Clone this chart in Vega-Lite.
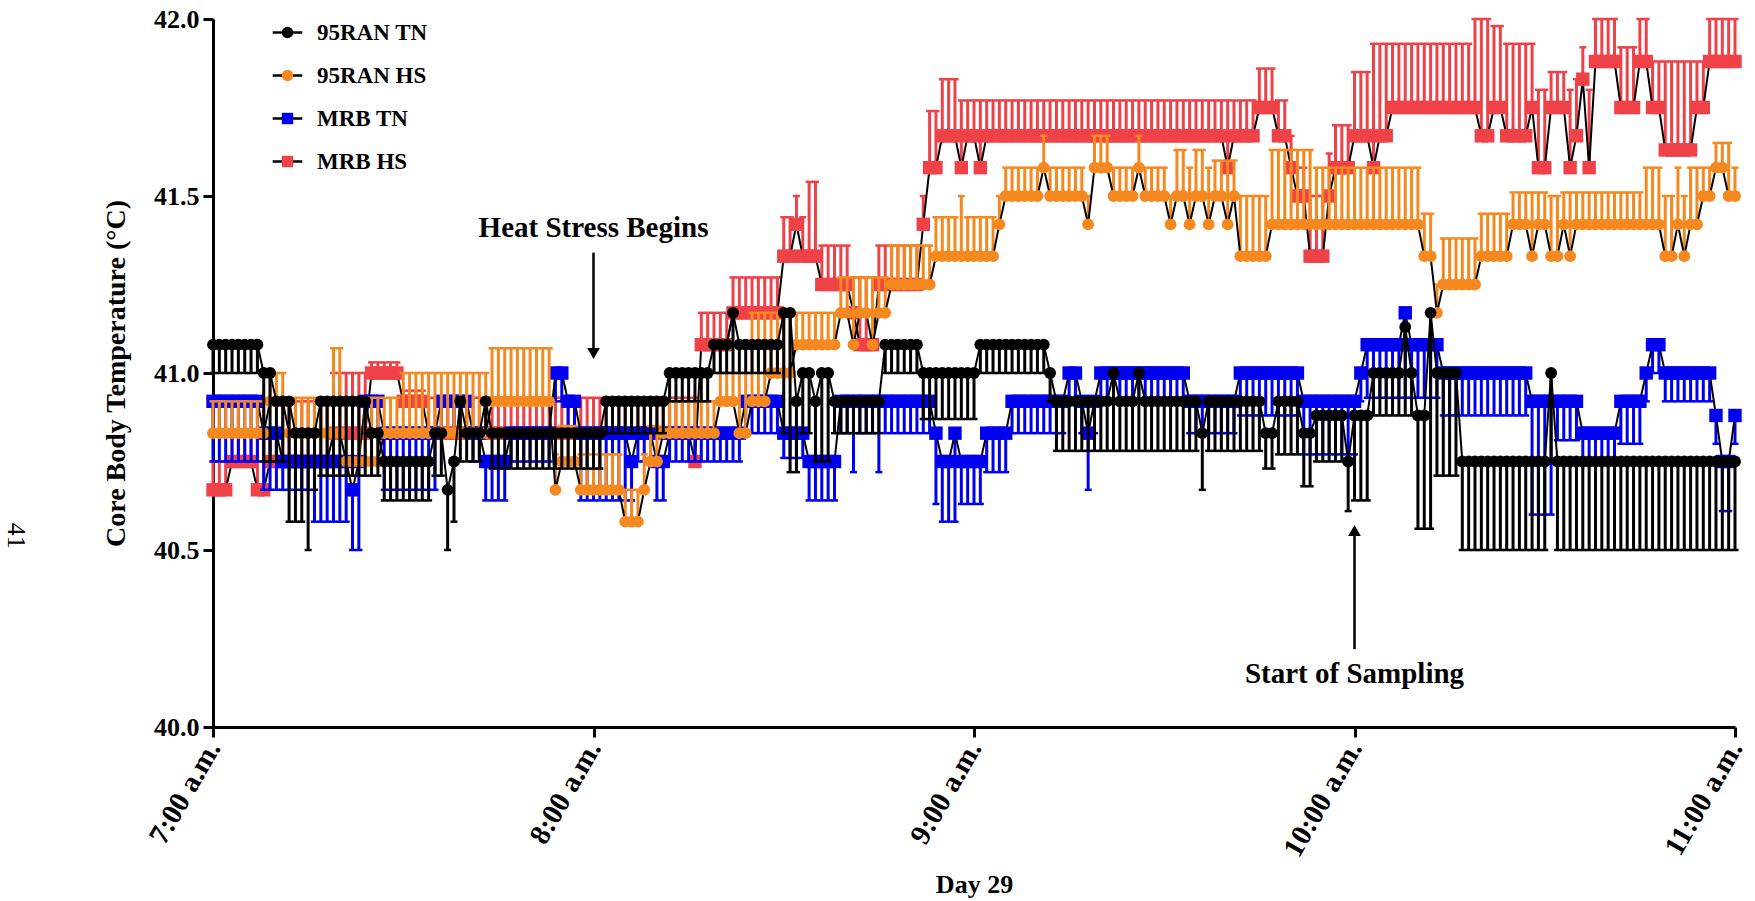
{
"$schema":"https://vega.github.io/schema/vega-lite/v6.json",
"width":1522,"height":708,
"autosize":{"type":"none"},
"padding":{"left":213,"top":19,"right":20,"bottom":174},
"background":"white",
"config":{"view":{"stroke":null}},
"data":{"values":[
{"t":0,"a":41.08,"a2":41,"b":40.83,"b2":40.92,"c":40.92,"c2":40.75,"d":40.67,"d2":40.75},
{"t":1,"a":41.08,"a2":41,"b":40.83,"b2":40.92,"c":40.92,"c2":40.75,"d":40.67,"d2":40.75},
{"t":2,"a":41.08,"a2":41,"b":40.83,"b2":40.92,"c":40.92,"c2":40.75,"d":40.67,"d2":40.75},
{"t":3,"a":41.08,"a2":41,"b":40.83,"b2":40.92,"c":40.92,"c2":40.75,"d":40.75,"d2":40.83},
{"t":4,"a":41.08,"a2":41,"b":40.83,"b2":40.92,"c":40.92,"c2":40.75,"d":40.75,"d2":40.83},
{"t":5,"a":41.08,"a2":41,"b":40.83,"b2":40.92,"c":40.92,"c2":40.75,"d":40.75,"d2":40.83},
{"t":6,"a":41.08,"a2":41,"b":40.83,"b2":40.92,"c":40.92,"c2":40.75,"d":40.75,"d2":40.83},
{"t":7,"a":41.08,"a2":41,"b":40.83,"b2":40.92,"c":40.92,"c2":40.75,"d":40.67,"d2":40.83},
{"t":8,"a":41,"a2":40.75,"b":40.83,"b2":40.92,"c":40.83,"c2":40.67,"d":40.67,"d2":40.83},
{"t":9,"a":41,"a2":40.75,"b":40.92,"b2":41,"c":40.83,"c2":40.67,"d":40.75,"d2":40.83},
{"t":10,"a":40.92,"a2":40.75,"b":40.92,"b2":41,"c":40.83,"c2":40.67,"d":40.75,"d2":40.83},
{"t":11,"a":40.92,"a2":40.75,"b":40.92,"b2":41,"c":40.75,"c2":40.67,"d":40.75,"d2":40.92},
{"t":12,"a":40.92,"a2":40.58,"b":40.83,"b2":40.93,"c":40.75,"c2":40.67,"d":40.75,"d2":40.92},
{"t":13,"a":40.83,"a2":40.58,"b":40.83,"b2":40.93,"c":40.75,"c2":40.67,"d":40.75,"d2":40.92},
{"t":14,"a":40.83,"a2":40.58,"b":40.83,"b2":40.93,"c":40.75,"c2":40.67,"d":40.75,"d2":40.92},
{"t":15,"a":40.83,"a2":40.5,"b":40.83,"b2":40.93,"c":40.75,"c2":40.67,"d":40.75,"d2":40.92},
{"t":16,"a":40.83,"a2":40.67,"b":40.83,"b2":40.93,"c":40.75,"c2":40.58,"d":40.75,"d2":40.92},
{"t":17,"a":40.92,"a2":40.71,"b":40.83,"b2":40.93,"c":40.75,"c2":40.58,"d":40.75,"d2":40.92},
{"t":18,"a":40.92,"a2":40.71,"b":40.83,"b2":40.93,"c":40.75,"c2":40.58,"d":40.75,"d2":40.92},
{"t":19,"a":40.92,"a2":40.71,"b":40.83,"b2":41.07,"c":40.75,"c2":40.58,"d":40.83,"d2":41},
{"t":20,"a":40.92,"a2":40.71,"b":40.83,"b2":41.07,"c":40.75,"c2":40.58,"d":40.83,"d2":41},
{"t":21,"a":40.92,"a2":40.71,"b":40.75,"b2":40.93,"c":40.75,"c2":40.58,"d":40.83,"d2":41},
{"t":22,"a":40.92,"a2":40.71,"b":40.75,"b2":40.93,"c":40.67,"c2":40.5,"d":40.83,"d2":41},
{"t":23,"a":40.92,"a2":40.71,"b":40.75,"b2":40.93,"c":40.75,"c2":40.5,"d":40.83,"d2":41},
{"t":24,"a":40.92,"a2":40.71,"b":40.75,"b2":40.93,"c":40.92,"c2":40.83,"d":40.83,"d2":41},
{"t":25,"a":40.83,"a2":40.71,"b":40.75,"b2":40.93,"c":40.92,"c2":40.83,"d":41,"d2":41.03},
{"t":26,"a":40.83,"a2":40.71,"b":40.75,"b2":40.93,"c":40.92,"c2":40.83,"d":41,"d2":41.03},
{"t":27,"a":40.75,"a2":40.64,"b":40.83,"b2":40.93,"c":40.83,"c2":40.67,"d":41,"d2":41.03},
{"t":28,"a":40.75,"a2":40.64,"b":40.83,"b2":40.93,"c":40.83,"c2":40.67,"d":41,"d2":41.03},
{"t":29,"a":40.75,"a2":40.64,"b":40.83,"b2":40.93,"c":40.83,"c2":40.67,"d":41,"d2":41.03},
{"t":30,"a":40.75,"a2":40.64,"b":40.83,"b2":41,"c":40.83,"c2":40.67,"d":40.92,"d2":40.95},
{"t":31,"a":40.75,"a2":40.64,"b":40.83,"b2":41,"c":40.83,"c2":40.67,"d":40.92,"d2":40.95},
{"t":32,"a":40.75,"a2":40.64,"b":40.83,"b2":41,"c":40.83,"c2":40.67,"d":40.92,"d2":40.95},
{"t":33,"a":40.75,"a2":40.64,"b":40.83,"b2":41,"c":40.83,"c2":40.67,"d":40.92,"d2":40.95},
{"t":34,"a":40.75,"a2":40.64,"b":40.83,"b2":41,"c":40.83,"c2":40.67,"d":40.83,"d2":40.93},
{"t":35,"a":40.83,"a2":40.71,"b":40.83,"b2":41,"c":40.83,"c2":40.67,"d":40.83,"d2":40.93},
{"t":36,"a":40.83,"a2":40.71,"b":40.83,"b2":41,"c":40.92,"c2":40.83,"d":40.83,"d2":40.93},
{"t":37,"a":40.67,"a2":40.5,"b":40.83,"b2":41,"c":40.92,"c2":40.83,"d":40.83,"d2":40.93},
{"t":38,"a":40.75,"a2":40.58,"b":40.83,"b2":41,"c":40.92,"c2":40.83,"d":40.83,"d2":40.93},
{"t":39,"a":40.92,"a2":40.75,"b":40.83,"b2":41,"c":40.92,"c2":40.83,"d":40.83,"d2":40.93},
{"t":40,"a":40.83,"a2":40.75,"b":40.83,"b2":41,"c":40.92,"c2":40.83,"d":40.83,"d2":40.93},
{"t":41,"a":40.83,"a2":40.75,"b":40.83,"b2":41,"c":40.83,"c2":40.75,"d":40.83,"d2":40.93},
{"t":42,"a":40.83,"a2":40.75,"b":40.83,"b2":41,"c":40.83,"c2":40.75,"d":40.83,"d2":40.93},
{"t":43,"a":40.92,"a2":40.83,"b":40.83,"b2":41,"c":40.75,"c2":40.64,"d":40.83,"d2":40.93},
{"t":44,"a":40.83,"a2":40.73,"b":40.92,"b2":41.07,"c":40.75,"c2":40.64,"d":40.83,"d2":40.93},
{"t":45,"a":40.83,"a2":40.73,"b":40.92,"b2":41.07,"c":40.75,"c2":40.64,"d":40.83,"d2":40.93},
{"t":46,"a":40.83,"a2":40.73,"b":40.92,"b2":41.07,"c":40.75,"c2":40.64,"d":40.83,"d2":40.93},
{"t":47,"a":40.83,"a2":40.73,"b":40.92,"b2":41.07,"c":40.83,"c2":40.75,"d":40.83,"d2":40.93},
{"t":48,"a":40.83,"a2":40.73,"b":40.92,"b2":41.07,"c":40.83,"c2":40.75,"d":40.83,"d2":40.93},
{"t":49,"a":40.83,"a2":40.73,"b":40.92,"b2":41.07,"c":40.83,"c2":40.75,"d":40.83,"d2":40.93},
{"t":50,"a":40.83,"a2":40.73,"b":40.92,"b2":41.07,"c":40.83,"c2":40.75,"d":40.83,"d2":40.93},
{"t":51,"a":40.83,"a2":40.73,"b":40.92,"b2":41.07,"c":40.83,"c2":40.75,"d":40.83,"d2":40.93},
{"t":52,"a":40.83,"a2":40.73,"b":40.92,"b2":41.07,"c":40.83,"c2":40.75,"d":40.83,"d2":40.93},
{"t":53,"a":40.83,"a2":40.73,"b":40.92,"b2":41.07,"c":40.83,"c2":40.75,"d":40.83,"d2":40.93},
{"t":54,"a":40.83,"a2":40.73,"b":40.67,"b2":40.77,"c":41,"c2":40.92,"d":40.83,"d2":40.93},
{"t":55,"a":40.83,"a2":40.73,"b":40.75,"b2":40.85,"c":41,"c2":40.92,"d":40.83,"d2":40.93},
{"t":56,"a":40.83,"a2":40.73,"b":40.75,"b2":40.85,"c":40.92,"c2":40.83,"d":40.83,"d2":40.93},
{"t":57,"a":40.83,"a2":40.73,"b":40.75,"b2":40.85,"c":40.92,"c2":40.83,"d":40.83,"d2":40.93},
{"t":58,"a":40.83,"a2":40.73,"b":40.67,"b2":40.77,"c":40.83,"c2":40.64,"d":40.83,"d2":40.93},
{"t":59,"a":40.83,"a2":40.73,"b":40.67,"b2":40.77,"c":40.83,"c2":40.64,"d":40.83,"d2":40.93},
{"t":60,"a":40.83,"a2":40.73,"b":40.67,"b2":40.77,"c":40.83,"c2":40.64,"d":40.83,"d2":40.93},
{"t":61,"a":40.83,"a2":40.73,"b":40.67,"b2":40.77,"c":40.83,"c2":40.64,"d":40.83,"d2":40.93},
{"t":62,"a":40.92,"a2":40.83,"b":40.67,"b2":40.77,"c":40.83,"c2":40.64,"d":40.83,"d2":40.93},
{"t":63,"a":40.92,"a2":40.83,"b":40.67,"b2":40.77,"c":40.83,"c2":40.64,"d":40.83,"d2":40.93},
{"t":64,"a":40.92,"a2":40.83,"b":40.67,"b2":40.77,"c":40.83,"c2":40.64,"d":40.83,"d2":40.93},
{"t":65,"a":40.92,"a2":40.83,"b":40.58,"b2":40.67,"c":40.83,"c2":40.64,"d":40.83,"d2":40.93},
{"t":66,"a":40.92,"a2":40.83,"b":40.58,"b2":40.67,"c":40.75,"c2":40.64,"d":40.83,"d2":40.93},
{"t":67,"a":40.92,"a2":40.83,"b":40.58,"b2":40.67,"c":40.83,"c2":40.75,"d":40.83,"d2":40.93},
{"t":68,"a":40.92,"a2":40.83,"b":40.67,"b2":40.77,"c":40.83,"c2":40.75,"d":40.83,"d2":40.93},
{"t":69,"a":40.92,"a2":40.83,"b":40.75,"b2":40.85,"c":40.83,"c2":40.75,"d":40.83,"d2":40.93},
{"t":70,"a":40.92,"a2":40.83,"b":40.75,"b2":40.85,"c":40.75,"c2":40.64,"d":40.83,"d2":40.93},
{"t":71,"a":40.92,"a2":40.83,"b":40.83,"b2":40.92,"c":40.75,"c2":40.64,"d":40.83,"d2":40.93},
{"t":72,"a":41,"a2":40.92,"b":40.83,"b2":40.92,"c":40.83,"c2":40.75,"d":40.83,"d2":40.93},
{"t":73,"a":41,"a2":40.92,"b":40.83,"b2":40.92,"c":40.83,"c2":40.75,"d":40.83,"d2":40.93},
{"t":74,"a":41,"a2":40.92,"b":40.83,"b2":40.92,"c":40.83,"c2":40.75,"d":40.83,"d2":40.93},
{"t":75,"a":41,"a2":40.92,"b":40.83,"b2":40.92,"c":40.83,"c2":40.75,"d":40.83,"d2":40.93},
{"t":76,"a":41,"a2":40.92,"b":40.83,"b2":40.92,"c":40.83,"c2":40.75,"d":40.75,"d2":40.93},
{"t":77,"a":41,"a2":40.92,"b":40.83,"b2":40.92,"c":40.83,"c2":40.75,"d":41.08,"d2":41.17},
{"t":78,"a":41,"a2":40.92,"b":40.83,"b2":40.92,"c":40.83,"c2":40.75,"d":41.08,"d2":41.17},
{"t":79,"a":41.08,"a2":41,"b":40.83,"b2":40.92,"c":40.83,"c2":40.75,"d":41.08,"d2":41.17},
{"t":80,"a":41.08,"a2":41,"b":40.92,"b2":41,"c":40.83,"c2":40.75,"d":41.08,"d2":41.17},
{"t":81,"a":41.08,"a2":41,"b":40.92,"b2":41,"c":40.83,"c2":40.75,"d":41.08,"d2":41.17},
{"t":82,"a":41.17,"a2":41,"b":40.92,"b2":41,"c":40.83,"c2":40.75,"d":41.17,"d2":41.27},
{"t":83,"a":41.08,"a2":41,"b":40.83,"b2":41,"c":40.83,"c2":40.75,"d":41.17,"d2":41.27},
{"t":84,"a":41.08,"a2":41,"b":40.83,"b2":41,"c":40.92,"c2":40.83,"d":41.17,"d2":41.27},
{"t":85,"a":41.08,"a2":41,"b":40.92,"b2":41.17,"c":40.92,"c2":40.83,"d":41.17,"d2":41.27},
{"t":86,"a":41.08,"a2":41,"b":40.92,"b2":41.17,"c":40.92,"c2":40.83,"d":41.17,"d2":41.27},
{"t":87,"a":41.08,"a2":41,"b":40.92,"b2":41.17,"c":40.92,"c2":40.83,"d":41.17,"d2":41.27},
{"t":88,"a":41.08,"a2":41,"b":41,"b2":41.17,"c":40.92,"c2":40.83,"d":41.17,"d2":41.27},
{"t":89,"a":41.08,"a2":41,"b":41,"b2":41.17,"c":40.92,"c2":40.83,"d":41.17,"d2":41.27},
{"t":90,"a":41.17,"a2":40.83,"b":41,"b2":41.17,"c":40.83,"c2":40.76,"d":41.33,"d2":41.44},
{"t":91,"a":41.17,"a2":40.72,"b":41,"b2":41.17,"c":40.83,"c2":40.76,"d":41.33,"d2":41.44},
{"t":92,"a":40.92,"a2":40.72,"b":41.08,"b2":41.17,"c":40.83,"c2":40.76,"d":41.42,"d2":41.5},
{"t":93,"a":41,"a2":40.83,"b":41.08,"b2":41.17,"c":40.83,"c2":40.76,"d":41.33,"d2":41.44},
{"t":94,"a":41,"a2":40.83,"b":41.08,"b2":41.17,"c":40.75,"c2":40.64,"d":41.33,"d2":41.54},
{"t":95,"a":40.92,"a2":40.75,"b":41.08,"b2":41.17,"c":40.75,"c2":40.64,"d":41.33,"d2":41.54},
{"t":96,"a":41,"a2":40.75,"b":41.08,"b2":41.17,"c":40.75,"c2":40.64,"d":41.25,"d2":41.36},
{"t":97,"a":41,"a2":40.75,"b":41.08,"b2":41.17,"c":40.75,"c2":40.64,"d":41.25,"d2":41.36},
{"t":98,"a":40.92,"a2":40.83,"b":41.08,"b2":41.17,"c":40.75,"c2":40.64,"d":41.25,"d2":41.36},
{"t":99,"a":40.92,"a2":40.83,"b":41.17,"b2":41.27,"c":40.92,"c2":40.83,"d":41.25,"d2":41.36},
{"t":100,"a":40.92,"a2":40.83,"b":41.17,"b2":41.27,"c":40.92,"c2":40.83,"d":41.25,"d2":41.36},
{"t":101,"a":40.92,"a2":40.83,"b":41.08,"b2":41.27,"c":40.92,"c2":40.72,"d":41.17,"d2":41.27},
{"t":102,"a":40.92,"a2":40.83,"b":41.17,"b2":41.27,"c":40.92,"c2":40.83,"d":41.08,"d2":41.27},
{"t":103,"a":40.92,"a2":40.83,"b":41.17,"b2":41.27,"c":40.92,"c2":40.83,"d":41.08,"d2":41.27},
{"t":104,"a":40.92,"a2":40.83,"b":41.08,"b2":41.27,"c":40.92,"c2":40.83,"d":41.08,"d2":41.27},
{"t":105,"a":40.92,"a2":40.83,"b":41.17,"b2":41.27,"c":40.92,"c2":40.72,"d":41.25,"d2":41.36},
{"t":106,"a":41.08,"a2":41,"b":41.17,"b2":41.27,"c":40.92,"c2":40.83,"d":41.25,"d2":41.36},
{"t":107,"a":41.08,"a2":41,"b":41.25,"b2":41.36,"c":40.92,"c2":40.83,"d":41.25,"d2":41.36},
{"t":108,"a":41.08,"a2":41,"b":41.25,"b2":41.36,"c":40.92,"c2":40.83,"d":41.25,"d2":41.36},
{"t":109,"a":41.08,"a2":41,"b":41.25,"b2":41.36,"c":40.92,"c2":40.83,"d":41.25,"d2":41.36},
{"t":110,"a":41.08,"a2":41,"b":41.25,"b2":41.36,"c":40.92,"c2":40.83,"d":41.25,"d2":41.36},
{"t":111,"a":41.08,"a2":41,"b":41.25,"b2":41.36,"c":40.92,"c2":40.83,"d":41.25,"d2":41.36},
{"t":112,"a":41,"a2":40.87,"b":41.25,"b2":41.36,"c":40.92,"c2":40.83,"d":41.42,"d2":41.5},
{"t":113,"a":41,"a2":40.87,"b":41.25,"b2":41.36,"c":40.92,"c2":40.83,"d":41.58,"d2":41.74},
{"t":114,"a":41,"a2":40.87,"b":41.33,"b2":41.44,"c":40.83,"c2":40.63,"d":41.58,"d2":41.74},
{"t":115,"a":41,"a2":40.87,"b":41.33,"b2":41.44,"c":40.75,"c2":40.58,"d":41.67,"d2":41.83},
{"t":116,"a":41,"a2":40.87,"b":41.33,"b2":41.44,"c":40.75,"c2":40.58,"d":41.67,"d2":41.83},
{"t":117,"a":41,"a2":40.87,"b":41.33,"b2":41.44,"c":40.83,"c2":40.58,"d":41.67,"d2":41.83},
{"t":118,"a":41,"a2":40.87,"b":41.33,"b2":41.5,"c":40.75,"c2":40.63,"d":41.58,"d2":41.77},
{"t":119,"a":41,"a2":40.87,"b":41.33,"b2":41.44,"c":40.75,"c2":40.63,"d":41.67,"d2":41.77},
{"t":120,"a":41,"a2":40.87,"b":41.33,"b2":41.44,"c":40.75,"c2":40.63,"d":41.67,"d2":41.77},
{"t":121,"a":41.08,"a2":41,"b":41.33,"b2":41.44,"c":40.75,"c2":40.63,"d":41.58,"d2":41.77},
{"t":122,"a":41.08,"a2":41,"b":41.33,"b2":41.44,"c":40.83,"c2":40.72,"d":41.67,"d2":41.77},
{"t":123,"a":41.08,"a2":41,"b":41.33,"b2":41.44,"c":40.83,"c2":40.72,"d":41.67,"d2":41.77},
{"t":124,"a":41.08,"a2":41,"b":41.42,"b2":41.5,"c":40.83,"c2":40.72,"d":41.67,"d2":41.77},
{"t":125,"a":41.08,"a2":41,"b":41.5,"b2":41.58,"c":40.83,"c2":40.72,"d":41.67,"d2":41.77},
{"t":126,"a":41.08,"a2":41,"b":41.5,"b2":41.58,"c":40.92,"c2":40.83,"d":41.67,"d2":41.77},
{"t":127,"a":41.08,"a2":41,"b":41.5,"b2":41.58,"c":40.92,"c2":40.83,"d":41.67,"d2":41.77},
{"t":128,"a":41.08,"a2":41,"b":41.5,"b2":41.58,"c":40.92,"c2":40.83,"d":41.67,"d2":41.77},
{"t":129,"a":41.08,"a2":41,"b":41.5,"b2":41.58,"c":40.92,"c2":40.83,"d":41.67,"d2":41.77},
{"t":130,"a":41.08,"a2":41,"b":41.5,"b2":41.58,"c":40.92,"c2":40.83,"d":41.67,"d2":41.77},
{"t":131,"a":41.08,"a2":41,"b":41.58,"b2":41.67,"c":40.92,"c2":40.83,"d":41.67,"d2":41.77},
{"t":132,"a":41,"a2":40.92,"b":41.5,"b2":41.58,"c":40.92,"c2":40.83,"d":41.67,"d2":41.77},
{"t":133,"a":40.92,"a2":40.78,"b":41.5,"b2":41.58,"c":40.92,"c2":40.83,"d":41.67,"d2":41.77},
{"t":134,"a":40.92,"a2":40.78,"b":41.5,"b2":41.58,"c":40.92,"c2":40.83,"d":41.67,"d2":41.77},
{"t":135,"a":40.92,"a2":40.78,"b":41.5,"b2":41.58,"c":41,"c2":40.92,"d":41.67,"d2":41.77},
{"t":136,"a":40.92,"a2":40.78,"b":41.5,"b2":41.58,"c":41,"c2":40.92,"d":41.67,"d2":41.77},
{"t":137,"a":40.92,"a2":40.78,"b":41.5,"b2":41.58,"c":40.92,"c2":40.83,"d":41.67,"d2":41.77},
{"t":138,"a":40.92,"a2":40.78,"b":41.42,"b2":41.5,"c":40.83,"c2":40.67,"d":41.67,"d2":41.77},
{"t":139,"a":40.92,"a2":40.78,"b":41.58,"b2":41.67,"c":40.92,"c2":40.83,"d":41.67,"d2":41.77},
{"t":140,"a":40.92,"a2":40.78,"b":41.58,"b2":41.67,"c":41,"c2":40.92,"d":41.67,"d2":41.77},
{"t":141,"a":40.92,"a2":40.78,"b":41.58,"b2":41.67,"c":41,"c2":40.92,"d":41.67,"d2":41.77},
{"t":142,"a":41,"a2":40.78,"b":41.5,"b2":41.58,"c":41,"c2":40.92,"d":41.67,"d2":41.77},
{"t":143,"a":40.92,"a2":40.78,"b":41.5,"b2":41.58,"c":41,"c2":40.92,"d":41.67,"d2":41.77},
{"t":144,"a":40.92,"a2":40.78,"b":41.5,"b2":41.58,"c":41,"c2":40.92,"d":41.67,"d2":41.77},
{"t":145,"a":40.92,"a2":40.78,"b":41.5,"b2":41.58,"c":41,"c2":40.92,"d":41.67,"d2":41.77},
{"t":146,"a":41,"a2":40.78,"b":41.58,"b2":41.67,"c":41,"c2":40.92,"d":41.67,"d2":41.77},
{"t":147,"a":40.92,"a2":40.78,"b":41.5,"b2":41.58,"c":41,"c2":40.92,"d":41.67,"d2":41.77},
{"t":148,"a":40.92,"a2":40.78,"b":41.5,"b2":41.58,"c":41,"c2":40.92,"d":41.67,"d2":41.77},
{"t":149,"a":40.92,"a2":40.78,"b":41.5,"b2":41.58,"c":41,"c2":40.92,"d":41.67,"d2":41.77},
{"t":150,"a":40.92,"a2":40.78,"b":41.5,"b2":41.58,"c":41,"c2":40.92,"d":41.67,"d2":41.77},
{"t":151,"a":40.92,"a2":40.78,"b":41.42,"b2":41.5,"c":41,"c2":40.92,"d":41.67,"d2":41.77},
{"t":152,"a":40.92,"a2":40.78,"b":41.5,"b2":41.63,"c":41,"c2":40.92,"d":41.67,"d2":41.77},
{"t":153,"a":40.92,"a2":40.78,"b":41.5,"b2":41.63,"c":41,"c2":40.92,"d":41.67,"d2":41.77},
{"t":154,"a":40.92,"a2":40.78,"b":41.42,"b2":41.58,"c":40.92,"c2":40.83,"d":41.67,"d2":41.77},
{"t":155,"a":40.92,"a2":40.78,"b":41.5,"b2":41.63,"c":40.92,"c2":40.83,"d":41.67,"d2":41.77},
{"t":156,"a":40.83,"a2":40.67,"b":41.5,"b2":41.63,"c":40.92,"c2":40.83,"d":41.67,"d2":41.77},
{"t":157,"a":40.92,"a2":40.78,"b":41.42,"b2":41.58,"c":40.92,"c2":40.83,"d":41.67,"d2":41.77},
{"t":158,"a":40.92,"a2":40.78,"b":41.5,"b2":41.6,"c":40.92,"c2":40.83,"d":41.67,"d2":41.77},
{"t":159,"a":40.92,"a2":40.78,"b":41.5,"b2":41.6,"c":40.92,"c2":40.83,"d":41.67,"d2":41.77},
{"t":160,"a":40.92,"a2":40.78,"b":41.42,"b2":41.6,"c":40.92,"c2":40.83,"d":41.58,"d2":41.77},
{"t":161,"a":40.92,"a2":40.78,"b":41.5,"b2":41.6,"c":40.92,"c2":40.83,"d":41.67,"d2":41.77},
{"t":162,"a":40.92,"a2":40.78,"b":41.33,"b2":41.5,"c":41,"c2":40.88,"d":41.67,"d2":41.77},
{"t":163,"a":40.92,"a2":40.78,"b":41.33,"b2":41.5,"c":41,"c2":40.88,"d":41.67,"d2":41.77},
{"t":164,"a":40.92,"a2":40.78,"b":41.33,"b2":41.5,"c":41,"c2":40.88,"d":41.67,"d2":41.77},
{"t":165,"a":40.92,"a2":40.78,"b":41.33,"b2":41.5,"c":41,"c2":40.88,"d":41.75,"d2":41.86},
{"t":166,"a":40.83,"a2":40.73,"b":41.33,"b2":41.5,"c":41,"c2":40.88,"d":41.75,"d2":41.86},
{"t":167,"a":40.83,"a2":40.73,"b":41.42,"b2":41.63,"c":41,"c2":40.88,"d":41.75,"d2":41.86},
{"t":168,"a":40.92,"a2":40.77,"b":41.42,"b2":41.63,"c":41,"c2":40.88,"d":41.67,"d2":41.77},
{"t":169,"a":40.92,"a2":40.77,"b":41.42,"b2":41.63,"c":41,"c2":40.88,"d":41.67,"d2":41.77},
{"t":170,"a":40.92,"a2":40.77,"b":41.42,"b2":41.63,"c":41,"c2":40.88,"d":41.58,"d2":41.67},
{"t":171,"a":40.92,"a2":40.77,"b":41.42,"b2":41.63,"c":41,"c2":40.88,"d":41.5,"d2":41.58},
{"t":172,"a":40.83,"a2":40.68,"b":41.42,"b2":41.63,"c":40.92,"c2":40.77,"d":41.5,"d2":41.58},
{"t":173,"a":40.83,"a2":40.68,"b":41.42,"b2":41.63,"c":40.92,"c2":40.77,"d":41.33,"d2":41.5},
{"t":174,"a":40.88,"a2":40.75,"b":41.42,"b2":41.58,"c":40.92,"c2":40.77,"d":41.33,"d2":41.5},
{"t":175,"a":40.88,"a2":40.75,"b":41.42,"b2":41.58,"c":40.92,"c2":40.77,"d":41.33,"d2":41.5},
{"t":176,"a":40.88,"a2":40.75,"b":41.42,"b2":41.58,"c":40.92,"c2":40.77,"d":41.5,"d2":41.62},
{"t":177,"a":40.88,"a2":40.75,"b":41.42,"b2":41.58,"c":40.92,"c2":40.77,"d":41.58,"d2":41.7},
{"t":178,"a":40.88,"a2":40.75,"b":41.42,"b2":41.58,"c":40.92,"c2":40.77,"d":41.58,"d2":41.7},
{"t":179,"a":40.75,"a2":40.61,"b":41.42,"b2":41.58,"c":40.92,"c2":40.77,"d":41.58,"d2":41.7},
{"t":180,"a":40.88,"a2":40.64,"b":41.42,"b2":41.58,"c":40.92,"c2":40.77,"d":41.67,"d2":41.85},
{"t":181,"a":40.88,"a2":40.64,"b":41.42,"b2":41.58,"c":41,"c2":40.92,"d":41.67,"d2":41.85},
{"t":182,"a":40.88,"a2":40.64,"b":41.42,"b2":41.58,"c":41.08,"c2":40.93,"d":41.67,"d2":41.85},
{"t":183,"a":41,"a2":40.88,"b":41.42,"b2":41.58,"c":41.08,"c2":40.93,"d":41.58,"d2":41.93},
{"t":184,"a":41,"a2":40.88,"b":41.42,"b2":41.58,"c":41.08,"c2":40.93,"d":41.67,"d2":41.93},
{"t":185,"a":41,"a2":40.88,"b":41.42,"b2":41.58,"c":41.08,"c2":40.93,"d":41.67,"d2":41.93},
{"t":186,"a":41,"a2":40.88,"b":41.42,"b2":41.58,"c":41.08,"c2":40.93,"d":41.75,"d2":41.93},
{"t":187,"a":41,"a2":40.88,"b":41.42,"b2":41.58,"c":41.08,"c2":40.93,"d":41.75,"d2":41.93},
{"t":188,"a":41.13,"a2":40.88,"b":41.42,"b2":41.58,"c":41.17,"c2":40.93,"d":41.75,"d2":41.93},
{"t":189,"a":41,"a2":40.88,"b":41.42,"b2":41.58,"c":41.08,"c2":40.93,"d":41.75,"d2":41.93},
{"t":190,"a":40.88,"a2":40.56,"b":41.42,"b2":41.58,"c":41.08,"c2":40.93,"d":41.75,"d2":41.93},
{"t":191,"a":40.88,"a2":40.56,"b":41.33,"b2":41.45,"c":41.08,"c2":40.93,"d":41.75,"d2":41.93},
{"t":192,"a":41.17,"a2":40.56,"b":41.33,"b2":41.45,"c":41.08,"c2":40.93,"d":41.75,"d2":41.93},
{"t":193,"a":41,"a2":40.71,"b":41.17,"b2":41.25,"c":41.08,"c2":40.93,"d":41.75,"d2":41.93},
{"t":194,"a":41,"a2":40.71,"b":41.25,"b2":41.38,"c":41,"c2":40.88,"d":41.75,"d2":41.93},
{"t":195,"a":41,"a2":40.71,"b":41.25,"b2":41.38,"c":41,"c2":40.88,"d":41.75,"d2":41.93},
{"t":196,"a":41,"a2":40.71,"b":41.25,"b2":41.38,"c":41,"c2":40.88,"d":41.75,"d2":41.93},
{"t":197,"a":40.75,"a2":40.5,"b":41.25,"b2":41.38,"c":41,"c2":40.88,"d":41.75,"d2":41.93},
{"t":198,"a":40.75,"a2":40.5,"b":41.25,"b2":41.38,"c":41,"c2":40.88,"d":41.75,"d2":41.93},
{"t":199,"a":40.75,"a2":40.5,"b":41.25,"b2":41.38,"c":41,"c2":40.88,"d":41.75,"d2":42},
{"t":200,"a":40.75,"a2":40.5,"b":41.33,"b2":41.45,"c":41,"c2":40.88,"d":41.67,"d2":42},
{"t":201,"a":40.75,"a2":40.5,"b":41.33,"b2":41.45,"c":41,"c2":40.88,"d":41.67,"d2":42},
{"t":202,"a":40.75,"a2":40.5,"b":41.33,"b2":41.45,"c":41,"c2":40.88,"d":41.75,"d2":41.98},
{"t":203,"a":40.75,"a2":40.5,"b":41.33,"b2":41.45,"c":41,"c2":40.88,"d":41.75,"d2":41.98},
{"t":204,"a":40.75,"a2":40.5,"b":41.33,"b2":41.45,"c":41,"c2":40.88,"d":41.67,"d2":41.93},
{"t":205,"a":40.75,"a2":40.5,"b":41.42,"b2":41.51,"c":41,"c2":40.88,"d":41.67,"d2":41.93},
{"t":206,"a":40.75,"a2":40.5,"b":41.42,"b2":41.51,"c":41,"c2":40.88,"d":41.67,"d2":41.93},
{"t":207,"a":40.75,"a2":40.5,"b":41.42,"b2":41.51,"c":41,"c2":40.88,"d":41.67,"d2":41.93},
{"t":208,"a":40.75,"a2":40.5,"b":41.33,"b2":41.51,"c":40.92,"c2":40.6,"d":41.75,"d2":41.93},
{"t":209,"a":40.75,"a2":40.5,"b":41.42,"b2":41.51,"c":40.92,"c2":40.6,"d":41.58,"d2":41.8},
{"t":210,"a":40.75,"a2":40.5,"b":41.42,"b2":41.51,"c":40.92,"c2":40.6,"d":41.58,"d2":41.8},
{"t":211,"a":41,"a2":40.75,"b":41.33,"b2":41.5,"c":40.92,"c2":40.6,"d":41.75,"d2":41.85},
{"t":212,"a":40.75,"a2":40.5,"b":41.33,"b2":41.5,"c":40.92,"c2":40.81,"d":41.75,"d2":41.85},
{"t":213,"a":40.75,"a2":40.5,"b":41.42,"b2":41.51,"c":40.92,"c2":40.81,"d":41.75,"d2":41.85},
{"t":214,"a":40.75,"a2":40.5,"b":41.33,"b2":41.51,"c":40.92,"c2":40.81,"d":41.58,"d2":41.8},
{"t":215,"a":40.75,"a2":40.5,"b":41.42,"b2":41.51,"c":40.92,"c2":40.81,"d":41.67,"d2":41.83},
{"t":216,"a":40.75,"a2":40.5,"b":41.42,"b2":41.51,"c":40.83,"c2":40.75,"d":41.83,"d2":41.92},
{"t":217,"a":40.75,"a2":40.5,"b":41.42,"b2":41.51,"c":40.83,"c2":40.75,"d":41.58,"d2":41.8},
{"t":218,"a":40.75,"a2":40.5,"b":41.42,"b2":41.51,"c":40.83,"c2":40.75,"d":41.88,"d2":42},
{"t":219,"a":40.75,"a2":40.5,"b":41.42,"b2":41.51,"c":40.83,"c2":40.75,"d":41.88,"d2":42},
{"t":220,"a":40.75,"a2":40.5,"b":41.42,"b2":41.51,"c":40.83,"c2":40.75,"d":41.88,"d2":42},
{"t":221,"a":40.75,"a2":40.5,"b":41.42,"b2":41.51,"c":40.83,"c2":40.75,"d":41.88,"d2":42},
{"t":222,"a":40.75,"a2":40.5,"b":41.42,"b2":41.51,"c":40.92,"c2":40.8,"d":41.75,"d2":41.92},
{"t":223,"a":40.75,"a2":40.5,"b":41.42,"b2":41.51,"c":40.92,"c2":40.8,"d":41.75,"d2":41.92},
{"t":224,"a":40.75,"a2":40.5,"b":41.42,"b2":41.51,"c":40.92,"c2":40.8,"d":41.75,"d2":41.92},
{"t":225,"a":40.75,"a2":40.5,"b":41.42,"b2":41.51,"c":40.92,"c2":40.8,"d":41.88,"d2":42},
{"t":226,"a":40.75,"a2":40.5,"b":41.42,"b2":41.58,"c":41,"c2":40.92,"d":41.88,"d2":42},
{"t":227,"a":40.75,"a2":40.5,"b":41.42,"b2":41.58,"c":41.08,"c2":41,"d":41.75,"d2":41.88},
{"t":228,"a":40.75,"a2":40.5,"b":41.42,"b2":41.58,"c":41.08,"c2":41,"d":41.75,"d2":41.88},
{"t":229,"a":40.75,"a2":40.5,"b":41.33,"b2":41.5,"c":41,"c2":40.92,"d":41.63,"d2":41.88},
{"t":230,"a":40.75,"a2":40.5,"b":41.33,"b2":41.5,"c":41,"c2":40.92,"d":41.63,"d2":41.88},
{"t":231,"a":40.75,"a2":40.5,"b":41.42,"b2":41.58,"c":41,"c2":40.92,"d":41.63,"d2":41.88},
{"t":232,"a":40.75,"a2":40.5,"b":41.33,"b2":41.5,"c":41,"c2":40.92,"d":41.63,"d2":41.88},
{"t":233,"a":40.75,"a2":40.5,"b":41.42,"b2":41.58,"c":41,"c2":40.92,"d":41.63,"d2":41.88},
{"t":234,"a":40.75,"a2":40.5,"b":41.42,"b2":41.58,"c":41,"c2":40.92,"d":41.75,"d2":41.88},
{"t":235,"a":40.75,"a2":40.5,"b":41.5,"b2":41.58,"c":41,"c2":40.92,"d":41.75,"d2":41.88},
{"t":236,"a":40.75,"a2":40.5,"b":41.5,"b2":41.58,"c":41,"c2":40.92,"d":41.88,"d2":42},
{"t":237,"a":40.75,"a2":40.5,"b":41.58,"b2":41.65,"c":40.88,"c2":40.8,"d":41.88,"d2":42},
{"t":238,"a":40.75,"a2":40.5,"b":41.58,"b2":41.65,"c":40.75,"c2":40.61,"d":41.88,"d2":42},
{"t":239,"a":40.75,"a2":40.5,"b":41.5,"b2":41.65,"c":40.75,"c2":40.61,"d":41.88,"d2":42},
{"t":240,"a":40.75,"a2":40.5,"b":41.5,"b2":41.58,"c":40.88,"c2":40.8,"d":41.88,"d2":42}
]},
"layer":[
{"mark":{"type":"rule","color":"#EE4248","strokeWidth":3},
 "encoding":{
  "x":{"field":"t","type":"quantitative","scale":{"domain":[0,240],"nice":false,"zero":false},
   "axis":{"values":[0,60,120,180,240],"labelExpr":"['7:00 a.m.','8:00 a.m.','9:00 a.m.','10:00 a.m.','11:00 a.m.'][round(datum.value/60)]","labelAngle":-60,"labelAlign":"right","labelBaseline":"middle","labelPadding":6,"labelFont":"Liberation Serif","labelFontWeight":"bold","labelFontSize":29,"labelColor":"black","labelOverlap":false,"labelFlush":false,"labelBound":false,"tickColor":"black","tickWidth":3,"tickSize":10,"domainColor":"black","domainWidth":3,"grid":false,"title":"Day 29","titleFont":"Liberation Serif","titleFontWeight":"bold","titleFontSize":26,"titleColor":"black","titlePadding":10}},
  "y":{"field":"d","type":"quantitative","scale":{"domain":[40,42],"nice":false,"zero":false},
   "axis":{"values":[40,40.5,41,41.5,42],"format":".1f","labelFont":"Liberation Serif","labelFontWeight":"bold","labelFontSize":26,"labelColor":"black","labelPadding":4,"labelFlush":false,"labelOverlap":false,"tickColor":"black","tickWidth":3,"tickSize":10,"domainColor":"black","domainWidth":3,"grid":false,"title":"Core Body Temperature (°C)","titleFont":"Liberation Serif","titleFontWeight":"bold","titleFontSize":28,"titleColor":"black","titlePadding":23}},
  "y2":{"field":"d2"}}},
{"mark":{"type":"tick","orient":"horizontal","color":"#EE4248","size":7,"thickness":2.5,"opacity":1},
 "encoding":{"x":{"field":"t","type":"quantitative"},"y":{"field":"d2","type":"quantitative"}}},
{"mark":{"type":"line","color":"black","strokeWidth":2},
 "encoding":{"x":{"field":"t","type":"quantitative"},"y":{"field":"d","type":"quantitative"},
  "strokeDash":{"datum":"MRB HS ","scale":{"domain":["95RAN TN ","95RAN HS ","MRB TN ","MRB HS "],"range":[[1,0],[1,0],[1,0],[1,0]]},
   "legend":{"title":null,"orient":"none","legendX":63,"legendY":2,"direction":"vertical","labelFont":"Liberation Serif","labelFontWeight":"bold","labelFontSize":23,"labelOpacity":0,"labelExpr":"' '","labelOffset":300,"rowPadding":19,"symbolType":"M-2.6,0H2.6","symbolSize":130,"symbolStrokeColor":"black","symbolStrokeWidth":2.5,"zindex":1,"padding":0}}}},
{"mark":{"type":"point","filled":true,"opacity":1,"size":180},
 "encoding":{"x":{"field":"t","type":"quantitative"},"y":{"field":"d","type":"quantitative"},
  "color":{"datum":"MRB HS","scale":{"domain":["95RAN TN","95RAN HS","MRB TN","MRB HS"],"range":["#000000","#F5891F","#0000F0","#EE4248"]},
   "legend":{"title":null,"orient":"none","legendX":63,"legendY":2,"direction":"vertical","labelFont":"Liberation Serif","labelFontWeight":"bold","labelFontSize":23,"labelColor":"black","labelOffset":18,"rowPadding":19,"symbolSize":130,"symbolStrokeWidth":0,"zindex":2,"padding":0,"labelLimit":400}},
  "shape":{"datum":"MRB HS","scale":{"domain":["95RAN TN","95RAN HS","MRB TN","MRB HS"],"range":["circle","circle","square","square"]},
   "legend":{"title":null,"orient":"none","legendX":63,"legendY":2,"direction":"vertical","labelFont":"Liberation Serif","labelFontWeight":"bold","labelFontSize":23,"labelColor":"black","labelOffset":18,"rowPadding":19,"symbolSize":130,"symbolStrokeWidth":0,"zindex":2,"padding":0,"labelLimit":400}}}},

{"mark":{"type":"rule","color":"#0000F0","strokeWidth":3},
 "encoding":{"x":{"field":"t","type":"quantitative"},"y":{"field":"c","type":"quantitative"},"y2":{"field":"c2"}}},
{"mark":{"type":"tick","orient":"horizontal","color":"#0000F0","size":7,"thickness":2.5,"opacity":1},
 "encoding":{"x":{"field":"t","type":"quantitative"},"y":{"field":"c2","type":"quantitative"}}},
{"mark":{"type":"line","color":"black","strokeWidth":2},
 "encoding":{"x":{"field":"t","type":"quantitative"},"y":{"field":"c","type":"quantitative"},"strokeDash":{"datum":"MRB TN "}}},
{"mark":{"type":"point","filled":true,"opacity":1,"size":180},
 "encoding":{"x":{"field":"t","type":"quantitative"},"y":{"field":"c","type":"quantitative"},"color":{"datum":"MRB TN"},"shape":{"datum":"MRB TN"}}},

{"mark":{"type":"rule","color":"#F5891F","strokeWidth":3},
 "encoding":{"x":{"field":"t","type":"quantitative"},"y":{"field":"b","type":"quantitative"},"y2":{"field":"b2"}}},
{"mark":{"type":"tick","orient":"horizontal","color":"#F5891F","size":7,"thickness":2.5,"opacity":1},
 "encoding":{"x":{"field":"t","type":"quantitative"},"y":{"field":"b2","type":"quantitative"}}},
{"mark":{"type":"line","color":"black","strokeWidth":2},
 "encoding":{"x":{"field":"t","type":"quantitative"},"y":{"field":"b","type":"quantitative"},"strokeDash":{"datum":"95RAN HS "}}},
{"mark":{"type":"point","filled":true,"opacity":1,"size":140},
 "encoding":{"x":{"field":"t","type":"quantitative"},"y":{"field":"b","type":"quantitative"},"color":{"datum":"95RAN HS"},"shape":{"datum":"95RAN HS"}}},

{"mark":{"type":"rule","color":"#000000","strokeWidth":3},
 "encoding":{"x":{"field":"t","type":"quantitative"},"y":{"field":"a","type":"quantitative"},"y2":{"field":"a2"}}},
{"mark":{"type":"tick","orient":"horizontal","color":"#000000","size":7,"thickness":2.5,"opacity":1},
 "encoding":{"x":{"field":"t","type":"quantitative"},"y":{"field":"a2","type":"quantitative"}}},
{"mark":{"type":"line","color":"black","strokeWidth":2},
 "encoding":{"x":{"field":"t","type":"quantitative"},"y":{"field":"a","type":"quantitative"},"strokeDash":{"datum":"95RAN TN "}}},
{"mark":{"type":"point","filled":true,"opacity":1,"size":140},
 "encoding":{"x":{"field":"t","type":"quantitative"},"y":{"field":"a","type":"quantitative"},"color":{"datum":"95RAN TN"},"shape":{"datum":"95RAN TN"}}},

{"data":{"values":[{"t":60,"v":41.34,"v2":41.07},{"t":180,"v":40.22,"v2":40.54}]},
 "mark":{"type":"rule","color":"black","strokeWidth":2.5},
 "encoding":{"x":{"field":"t","type":"quantitative"},"y":{"field":"v","type":"quantitative"},"y2":{"field":"v2"}}},
{"data":{"values":[{"t":60,"v":41.055}]},
 "mark":{"type":"point","shape":"triangle-down","filled":true,"color":"black","opacity":1,"size":160},
 "encoding":{"x":{"field":"t","type":"quantitative"},"y":{"field":"v","type":"quantitative"}}},
{"data":{"values":[{"t":180,"v":40.555}]},
 "mark":{"type":"point","shape":"triangle-up","filled":true,"color":"black","opacity":1,"size":160},
 "encoding":{"x":{"field":"t","type":"quantitative"},"y":{"field":"v","type":"quantitative"}}},
{"data":{"values":[{"t":60,"v":41.41,"txt":"Heat Stress Begins"},{"t":180,"v":40.15,"txt":"Start of Sampling"}]},
 "mark":{"type":"text","font":"Liberation Serif","fontWeight":"bold","fontSize":29,"color":"black","align":"center","baseline":"middle"},
 "encoding":{"x":{"field":"t","type":"quantitative"},"y":{"field":"v","type":"quantitative"},"text":{"field":"txt"}}},
{"data":{"values":[{"t":-31,"v":40.54,"txt":"41"}]},
 "mark":{"type":"text","font":"Liberation Serif","fontSize":26,"angle":90,"color":"black","align":"center","baseline":"middle"},
 "encoding":{"x":{"field":"t","type":"quantitative"},"y":{"field":"v","type":"quantitative"},"text":{"field":"txt"}}}
]
}
